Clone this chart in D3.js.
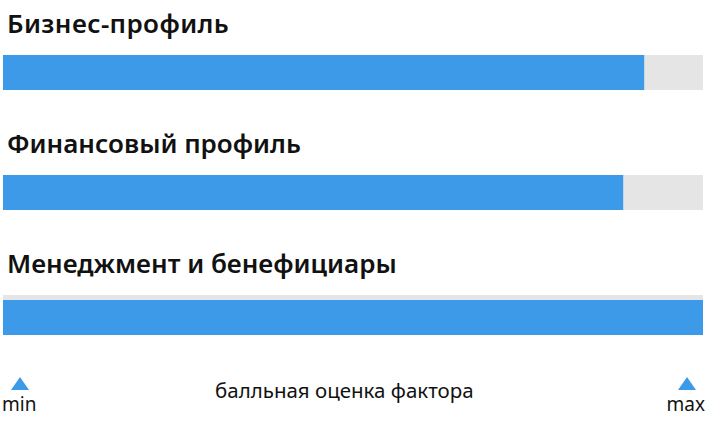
<!DOCTYPE html>
<html>
<head>
<meta charset="utf-8">
<script src="https://cdn.jsdelivr.net/npm/d3@7"></script>
<style>
  html, body { margin: 0; padding: 0; background: #fff; }
  svg text { font-family: "Noto Sans", sans-serif; fill: #111; }
</style>
</head>
<body>
<div id="chart"></div>
<script>
// factor scores
const factors = ['Бизнес-профиль', 'Финансовый профиль', 'Менеджмент и бенефициары'];
const scores = [0.916, 0.886, 1.0];
const scoreRange = [0, 1];
const axisLabels = ['min', 'max'];
const axisTitle = 'балльная оценка фактора';

const width = 706, height = 423;
const rowStep = 120;
const barH = 35;

const svg = d3.select('#chart')
    .append('svg')
    .attr('width', width)
    .attr('height', height);

const x = d3.scaleLinear()
    .domain(scoreRange)
    .range([3, 703]);

const rows = svg.selectAll('g.row')
    .data(factors.map((f, i) => ({name: f, value: scores[i], i: i})))
    .enter().append('g')
    .attr('class', 'row')
    .attr('transform', d => `translate(0,${d.i * rowStep + (d.i === 2 ? 5 : 0)})`);

rows.append('text')
    .attr('x', 7)
    .attr('y', d => d.i === 2 ? 28 : 33)
    .style('font-size', '26px')
    .style('font-weight', 600)
    .style('letter-spacing', d => d.i === 0 ? '0.4px' : '0px')
    .text(d => d.name);

// grey track (last one peeks out above the full bar)
rows.append('rect')
    .attr('x', x(scoreRange[0]))
    .attr('y', d => d.i === 2 ? 50 : 55)
    .attr('width', x(scoreRange[1]) - x(scoreRange[0]))
    .attr('height', d => d.i === 2 ? barH + 5 : barH)
    .style('fill', '#e5e5e5');

rows.append('rect')
    .attr('x', x(scoreRange[0]))
    .attr('y', 55)
    .attr('width', d => x(d.value) - x(scoreRange[0]))
    .attr('height', barH)
    .style('fill', '#3d9ae8');

// min / max markers
const ends = svg.selectAll('g.end')
    .data(scoreRange.map((v, i) => ({v: v, label: axisLabels[i]})))
    .enter().append('g')
    .attr('class', 'end');

ends.append('path')
    .attr('d', d => {
        const cx = d.v === scoreRange[0] ? 20 : 687;
        return `M${cx - 9},390L${cx},377L${cx + 9},390Z`;
    })
    .style('fill', '#3d9ae8');

ends.append('text')
    .attr('x', d => d.v === scoreRange[0] ? 2 : 705)
    .attr('y', 411)
    .attr('text-anchor', d => d.v === scoreRange[0] ? 'start' : 'end')
    .style('font-size', '19px')
    .text(d => d.label);

svg.append('text')
    .attr('x', 215)
    .attr('y', 398)
    .style('font-size', '20.5px')
    .text(axisTitle);
</script>
</body>
</html>
